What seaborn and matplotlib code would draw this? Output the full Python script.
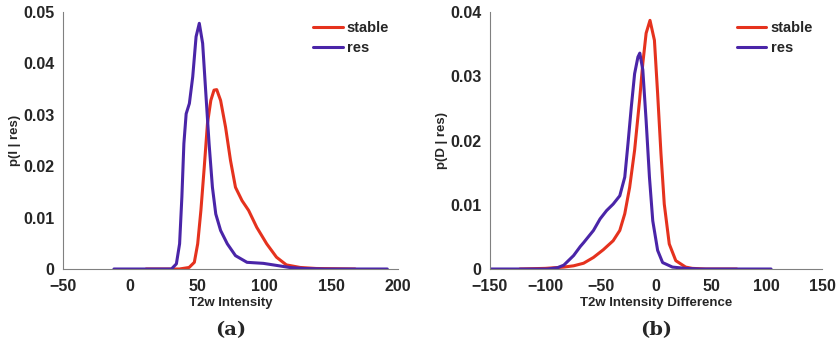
import numpy as np
import pandas as pd
import matplotlib
matplotlib.use("Agg")
import matplotlib.pyplot as plt
import matplotlib.ticker as mticker
import seaborn as sns

# Panel (a): T2w intensity densities
a_stable_x = [12, 30, 36.8, 44.1, 48, 50.5, 52.9, 55.4, 57.8, 60.3, 62.7, 64.7, 67.6, 71.3, 75, 78.7,
              83.6, 88.5, 94.6, 102, 109.3, 116.7, 127, 139, 168]
a_stable_y = [0.0, 0.0, 0.0, 0.0003, 0.0013, 0.0049, 0.0114, 0.0198, 0.0283, 0.0328, 0.0348, 0.0349,
              0.0328, 0.0276, 0.0211, 0.0159, 0.0133, 0.0114, 0.0081, 0.0049, 0.0023, 0.0008, 0.0003,
              0.0001, 0.0]
a_res_x = [-12, 20, 30.9, 34.6, 37, 38.7, 40.2, 41.9, 44.3, 46.8, 49.3, 51.7, 54.2, 56.6, 59, 61.5,
           64, 67.6, 72.6, 78.7, 87.3, 99.5, 111.8, 119, 130, 145, 192]
a_res_y = [0.0, 0.0, 0.0, 0.001, 0.0049, 0.014, 0.0244, 0.0302, 0.0322, 0.0374, 0.0452, 0.0478,
           0.0439, 0.0341, 0.0244, 0.0159, 0.0107, 0.0075, 0.0049, 0.0026, 0.0013, 0.0011, 0.0006,
           0.0003, 0.0001, 0.0, 0.0]

# Panel (b): T2w intensity difference densities
b_stable_x = [-123, -100, -83.3, -74.4, -65.4, -56.5, -47.6, -38.7, -32.7, -28.2, -23.8, -19.3, -14.8,
              -11.9, -8.9, -5.4, -1.4, 1.5, 4.5, 7.5, 12, 17.9, 26.8, 32.8, 45, 73]
b_stable_y = [0.0, 0.0001, 0.0003, 0.0005, 0.0009, 0.0018, 0.003, 0.0044, 0.006, 0.0086, 0.0127,
              0.0185, 0.0263, 0.032, 0.0367, 0.0387, 0.0356, 0.0273, 0.018, 0.0101, 0.0039, 0.0013,
              0.0003, 0.0001, 0.0, 0.0]
b_res_x = [-150, -110, -98, -89, -83.3, -74.4, -68.4, -65.4, -56.5, -50.5, -44.6, -38.7, -32.7, -28.2,
           -25.3, -22.3, -19.3, -16.3, -14.6, -11.9, -8.9, -5.9, -2.9, 1.5, 6, 14.9, 26.8, 40, 104]
b_res_y = [0.0, 0.0, 0.0, 0.0002, 0.0006, 0.0021, 0.0035, 0.0041, 0.006, 0.0078, 0.0091, 0.0101,
           0.0114, 0.0143, 0.0195, 0.0252, 0.0304, 0.033, 0.0336, 0.031, 0.0231, 0.0143, 0.0075,
           0.0029, 0.001, 0.0003, 0.0001, 0.0, 0.0]

series = ["stable", "res"]
colores = {"stable": "#E5321E", "res": "#4A25A8"}


def hacer_df(x1, y1, x2, y2):
    d1 = pd.DataFrame({"x": x1, "y": y1, "serie": "stable"})
    d2 = pd.DataFrame({"x": x2, "y": y2, "serie": "res"})
    return pd.concat([d1, d2], ignore_index=True)


sns.set_style("white")
plt.rcParams['font.family'] = ['Liberation Sans', 'DejaVu Sans']
plt.rcParams['font.weight'] = 'bold'

fig = plt.figure(figsize=(8.39, 3.5), dpi=100)
ax1 = fig.add_axes([0.0751, 0.2314, 0.3993, 0.7343])
ax2 = fig.add_axes([0.584, 0.2314, 0.3957, 0.7343])

paneles = [
    (ax1, hacer_df(a_stable_x, a_stable_y, a_res_x, a_res_y), (-50, 200), (0, 0.05),
     "T2w Intensity", "p(I | res)", "(a)"),
    (ax2, hacer_df(b_stable_x, b_stable_y, b_res_x, b_res_y), (-150, 150), (0, 0.04),
     "T2w Intensity Difference", "p(D | res)", "(b)"),
]

for ax, df, xl, yl, xlab, ylab, letra in paneles:
    sns.lineplot(data=df, x="x", y="y", hue="serie", hue_order=series,
                 palette=colores, linewidth=2.2, sort=False, estimator=None, ax=ax)
    ax.set_xlim(*xl)
    ax.set_ylim(*yl)
    ax.xaxis.set_major_locator(mticker.MultipleLocator(50))
    ax.yaxis.set_major_locator(mticker.MultipleLocator(0.01))
    ax.yaxis.set_major_formatter(mticker.FuncFormatter(lambda v, p: f"{v:g}"))
    ax.set_xlabel(xlab, fontsize=9.5, fontweight='bold', labelpad=2)
    ax.set_ylabel(ylab, fontsize=9.5, fontweight='bold', labelpad=2)
    for s in ["top", "right"]:
        ax.spines[s].set_visible(False)
    for s in ["left", "bottom"]:
        ax.spines[s].set_color("#808080")
        ax.spines[s].set_linewidth(0.8)
    ax.tick_params(axis="x", direction="in", length=3, color="#808080", labelsize=11.5, pad=7)
    ax.tick_params(axis="y", direction="in", length=3, color="#808080", labelsize=11.5, pad=6)
    for t in ax.get_xticklabels() + ax.get_yticklabels():
        t.set_fontweight('bold')
    leg = ax.legend(loc="upper right", frameon=False,
                    handlelength=2.0, handletextpad=0.3, labelspacing=0.45,
                    borderaxespad=0.2, prop={'weight': 'bold', 'size': 10.5})
    for h in leg.get_lines():
        h.set_linewidth(2.2)
    pos = ax.get_position()
    fig.text(pos.x0 + pos.width / 2, 0.057, letra, ha="center", va="center",
             fontsize=14, fontweight='bold', family='DejaVu Serif')

plt.savefig("out.png", dpi=100)
